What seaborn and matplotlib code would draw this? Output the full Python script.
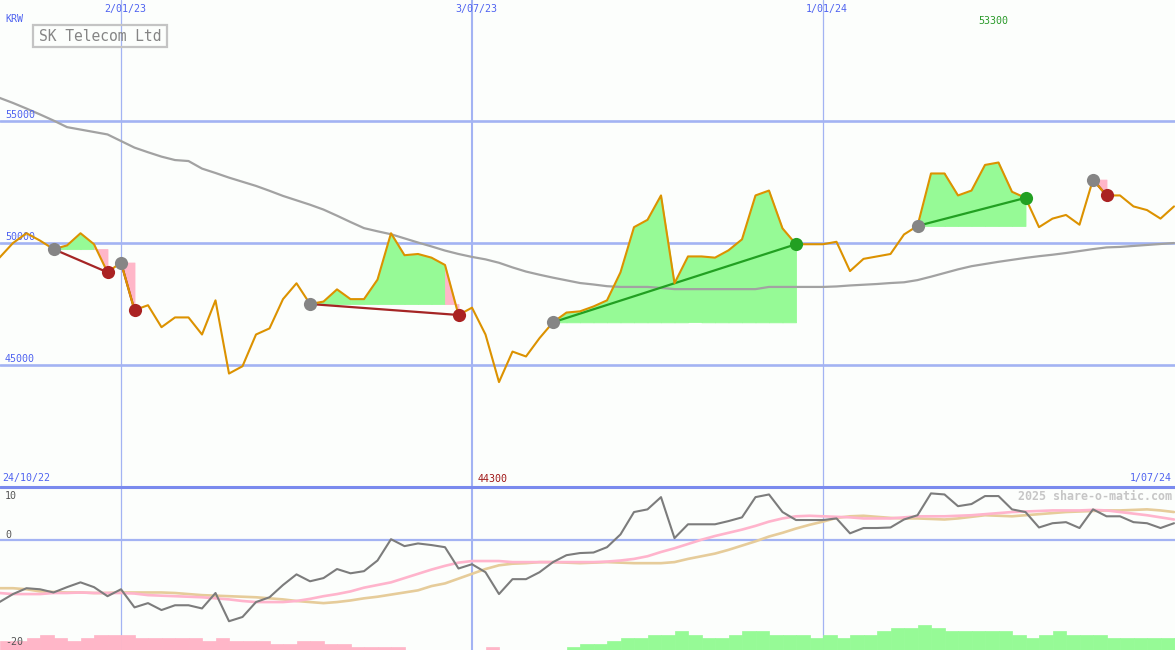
import matplotlib
matplotlib.use("Agg")
import matplotlib.pyplot as plt
import matplotlib.transforms as mtransforms
from matplotlib.patches import Rectangle
import pandas as pd
import seaborn as sns

# weekly closes, SK Telecom (KRW), week 1 = first week after 24/10/22
weeks = list(range(1, 89))
price = [
    49400, 50000, 50400, 50100, 49750, 49900, 50400, 49950, 48800, 49200,
    47250, 47450, 46550, 46950, 46950, 46250, 47650, 44650, 44950, 46250,
    46500, 47700, 48350, 47500, 47600, 48100, 47700, 47700, 48500, 50400,
    49500, 49550, 49400, 49100, 47050, 47350, 46250, 44300, 45550, 45350,
    46100, 46750, 47150, 47200, 47400, 47650, 48800, 50650, 50950, 51950,
    48350, 49450, 49450, 49400, 49700, 50150, 51950, 52150, 50600, 49950,
    49950, 49950, 50050, 48850, 49350, 49450, 49550, 50350, 50700, 52850,
    52850, 51950, 52150, 53200, 53300, 52100, 51850, 50650, 51000, 51150,
    50750, 52600, 51950, 51950, 51500, 51350, 51000, 51500,
]
ma_long = [
    55950, 55740, 55510, 55270, 55020, 54750, 54650, 54550, 54450, 54180,
    53910, 53720, 53540, 53400, 53360, 53050, 52870, 52680, 52510, 52340,
    52140, 51930, 51750, 51570, 51370, 51120, 50860, 50610, 50480, 50360,
    50190, 50020, 49860, 49690, 49550, 49430, 49330, 49190, 49000, 48830,
    48700, 48580, 48470, 48360, 48300, 48230, 48200, 48200, 48200, 48160,
    48110, 48110, 48110, 48110, 48110, 48110, 48110, 48200, 48200, 48200,
    48200, 48200, 48220, 48260, 48290, 48320, 48360, 48390, 48480, 48620,
    48770, 48920, 49050, 49140, 49230, 49310, 49390, 49460, 49520, 49590,
    49670, 49750, 49820, 49840, 49880, 49920, 49960, 50000,
]
osc = [
    -11.6, -10.1, -9.0, -9.2, -9.8, -8.8, -7.9, -8.8, -10.5, -9.2,
    -12.6, -11.8, -13.1, -12.2, -12.2, -12.8, -9.9, -15.2, -14.4, -11.6,
    -10.7, -8.4, -6.4, -7.7, -7.1, -5.4, -6.2, -5.8, -3.8, 0.2,
    -1.1, -0.6, -0.9, -1.3, -5.3, -4.5, -6.0, -10.1, -7.3, -7.3,
    -6.0, -4.1, -2.8, -2.4, -2.3, -1.3, 1.1, 5.3, 5.8, 8.1,
    0.4, 3.0, 3.0, 3.0, 3.6, 4.3, 8.1, 8.6, 5.3, 3.8,
    3.8, 3.8, 4.1, 1.3, 2.3, 2.3, 2.4, 3.9, 4.7, 8.8,
    8.6, 6.4, 6.8, 8.3, 8.3, 5.8, 5.3, 2.4, 3.2, 3.4,
    2.3, 5.8, 4.5, 4.5, 3.4, 3.2, 2.3, 3.2,
]
osc_fast = [
    -9.9, -10.1, -10.1, -10.1, -9.9, -9.9, -9.8, -9.9, -9.9, -9.9,
    -10.0, -10.3, -10.4, -10.5, -10.6, -10.7, -10.9, -11.1, -11.4, -11.6,
    -11.6, -11.6, -11.4, -11.0, -10.5, -10.1, -9.6, -8.9, -8.4, -7.9,
    -7.1, -6.3, -5.5, -4.8, -4.2, -3.9, -3.9, -3.9, -4.1, -4.1,
    -4.1, -4.1, -4.1, -4.1, -4.1, -4.0, -3.8, -3.5, -3.0, -2.2,
    -1.5, -0.7, 0.1, 0.8, 1.4, 2.0, 2.7, 3.5, 4.1, 4.5,
    4.6, 4.5, 4.4, 4.3, 4.1, 4.1, 4.1, 4.3, 4.5, 4.5,
    4.5, 4.6, 4.7, 4.9, 5.1, 5.3, 5.4, 5.5, 5.6, 5.6,
    5.6, 5.7, 5.6, 5.3, 5.0, 4.7, 4.3, 3.9,
]
osc_slow = [
    -9.0, -9.0, -9.2, -9.6, -9.7, -9.8, -9.8, -9.9, -9.9, -9.8,
    -9.8, -9.8, -9.8, -9.9, -10.1, -10.3, -10.4, -10.5, -10.6, -10.7,
    -10.9, -11.1, -11.4, -11.6, -11.8, -11.6, -11.3, -10.9, -10.6, -10.2,
    -9.8, -9.4, -8.6, -8.1, -7.2, -6.3, -5.4, -4.7, -4.4, -4.3,
    -4.1, -4.1, -4.2, -4.3, -4.2, -4.1, -4.2, -4.3, -4.3, -4.3,
    -4.1, -3.5, -3.0, -2.5, -1.8, -1.0, -0.2, 0.7, 1.4, 2.2,
    2.9, 3.5, 4.2, 4.5, 4.6, 4.4, 4.2, 4.1, 4.1, 4.0,
    3.9, 4.1, 4.4, 4.7, 4.6, 4.5, 4.7, 4.9, 5.1, 5.3,
    5.4, 5.5, 5.6, 5.6, 5.7, 5.8, 5.6, 5.3,
]
trend_hist = [
    -3, -3, -4, -5, -4, -3, -4, -5, -5, -5,
    -4, -4, -4, -4, -4, -3, -4, -3, -3, -3,
    -2, -2, -3, -3, -2, -2, -1, -1, -1, -1,
    0, 0, 0, 0, 0, 0, -1, 0, 0, 0,
    0, 0, 1, 2, 2, 3, 4, 4, 5, 5,
    6, 5, 4, 4, 5, 6, 6, 5, 5, 5,
    4, 5, 4, 5, 5, 6, 7, 7, 8, 7,
    6, 6, 6, 6, 6, 5, 4, 5, 6, 5,
    5, 5, 4, 4, 4, 4, 4, 4,
]

# trade signals (week of entry, week of exit)
signal_start = [5, 10, 24, 42, 69, 82]
signal_end = [9, 11, 35, 60, 77, 83]
signal_kind = ["sell", "sell", "sell", "buy", "buy", "sell"]

date_weeks = [10, 36, 62]
date_labels = ["2/01/23", "3/07/23", "1/01/24"]
first_date, last_date = "24/10/22", "1/07/24"
price_ticks = [45000, 50000, 55000]

df = pd.DataFrame({"week": weeks, "price": price, "ma": ma_long,
                   "osc": osc, "fast": osc_fast, "slow": osc_slow})

BG = "#fcfefc"
GRID = "#a3b3f3"
BLUE_TXT = "#4f63f0"
GREEN_FILL = "#96fa96"
PINK_FILL = "#ffb6c8"

sns.set_style("white")
plt.rcParams["font.family"] = ["DejaVu Sans Mono", "DejaVu Sans"]

W, H = 1175, 650
fig = plt.figure(figsize=(W / 100, H / 100), dpi=100, facecolor=BG)
ax = fig.add_axes([0, 163 / H, 1, 487 / H])
ax2 = fig.add_axes([0, 0, 1, 163 / H])
xlim = (14 / 13.5, 1189 / 13.5)
for a in (ax, ax2):
    a.set_xlim(*xlim)
    a.axis("off")
ax.set_ylim(40000, 59960)
ax2.set_ylim(-20.6, 10)

# grid
for v in price_ticks:
    ax.axhline(v, color=GRID, lw=1.9, zorder=1)
for w in date_weeks:
    lw = 1.5 if w == 36 else 0.9
    ax.axvline(w, color=GRID, lw=lw, zorder=1)
    ax2.axvline(w, color=GRID, lw=lw, zorder=1)
ax2.axhline(0, color=GRID, lw=1.6, zorder=1)
ax2.axhline(10, color="#7a8aee", lw=2.2, zorder=5, clip_on=False)

# signal fills: each weekly step coloured by where it ends vs entry level
for s, e, k in zip(signal_start, signal_end, signal_kind):
    lvl = price[s - 1]
    for i in range(s, e):
        col = GREEN_FILL if price[i] >= lvl else PINK_FILL
        ax.fill_between([i, i + 1], [price[i - 1], price[i]], lvl,
                        facecolor=col, edgecolor=col, lw=0.6, zorder=2)

sns.lineplot(data=df, x="week", y="ma", ax=ax, color="#a2a2a2", lw=1.6,
             legend=False, zorder=3)

for s, e, k in zip(signal_start, signal_end, signal_kind):
    col = "#a52525" if k == "sell" else "#22a022"
    ax.plot([s, e], [price[s - 1], price[e - 1]], color=col, lw=1.6, zorder=4)

sns.lineplot(data=df, x="week", y="price", ax=ax, color="#dc9200", lw=1.5,
             legend=False, zorder=5)

for s, e, k in zip(signal_start, signal_end, signal_kind):
    col = "#aa2222" if k == "sell" else "#22a022"
    ax.scatter([s], [price[s - 1]], s=90, color="#858585", zorder=6, lw=0)
    ax.scatter([e], [price[e - 1]], s=90, color=col, zorder=6, lw=0)

# lower panel
sns.lineplot(data=df, x="week", y="slow", ax=ax2, color="#e6cc9a", lw=1.9,
             legend=False, zorder=3)
sns.lineplot(data=df, x="week", y="fast", ax=ax2, color="#ffb4cc", lw=1.9,
             legend=False, zorder=3)
sns.lineplot(data=df, x="week", y="osc", ax=ax2, color="#7c7c7c", lw=1.5,
             legend=False, zorder=4)

ax3 = ax2.twinx()
ax3.set_xlim(*xlim)
ax3.set_ylim(0, 52.6)
ax3.axis("off")
pos_w = [w for w, h in zip(weeks, trend_hist) if h > 0]
pos_h = [h for h in trend_hist if h > 0]
neg_w = [w for w, h in zip(weeks, trend_hist) if h < 0]
neg_h = [-h for h in trend_hist if h < 0]
ax3.bar(pos_w, pos_h, width=1, align="edge", color=GREEN_FILL,
        edgecolor=GREEN_FILL, lw=0.5)
ax3.bar(neg_w, neg_h, width=1, align="edge", color=PINK_FILL,
        edgecolor=PINK_FILL, lw=0.5)


def ftxt(x, y, s, **kw):
    fig.text(x / W, 1 - y / H, s, **kw)


# text
fs = 7.2
for w, lab in zip(date_weeks, date_labels):
    ax.text(w + 0.3, 1 - 9 / 487, lab, transform=ax.get_xaxis_transform(),
            ha="center", va="center", color=BLUE_TXT, fontsize=fs)
ytr = mtransforms.offset_copy(ax.get_yaxis_transform(), fig=fig, y=6, units="dots")
for v in price_ticks:
    ax.text(5 / W, v, str(v), transform=ytr, ha="left", va="center",
            color=BLUE_TXT, fontsize=fs)
ftxt(5, 19, "KRW", ha="left", va="center", color=BLUE_TXT, fontsize=fs)

fig.add_artist(Rectangle((33 / W, 1 - 47 / H), 134 / W, 22 / H,
                         transform=fig.transFigure, fill=False,
                         ec="#c4c4c4", lw=1.6))
ftxt(100, 36.5, "SK Telecom Ltd", ha="center", va="center",
     color="#858585", fontsize=10.5)

hi_w = weeks[price.index(max(price))]
lo_w = weeks[price.index(min(price))]
ax.text(hi_w - 0.4, 1 - 21 / 487, str(max(price)), transform=ax.get_xaxis_transform(),
        ha="center", va="center", color="#2a9a2a", fontsize=fs)
ax.text(lo_w - 0.45, 8.5 / 487, str(min(price)), transform=ax.get_xaxis_transform(),
        ha="center", va="center", color="#a01818", fontsize=fs)

ftxt(2, 478.5, first_date, ha="left", va="center", color=BLUE_TXT, fontsize=fs)
ftxt(1172, 478.5, last_date, ha="right", va="center", color=BLUE_TXT, fontsize=fs)
ftxt(1172, 496.5, "2025 share-o-matic.com", ha="right", va="center",
     color="#c6c6c6", fontsize=8.4, fontweight="bold")
ftxt(5, 496, "10", ha="left", va="center", color="#555555", fontsize=fs)
ftxt(5, 534.5, "0", ha="left", va="center", color="#555555", fontsize=fs)
ftxt(5, 642, "-20", ha="left", va="center", color="#555555", fontsize=fs)

fig.savefig("out.png", dpi=100, facecolor=BG)
